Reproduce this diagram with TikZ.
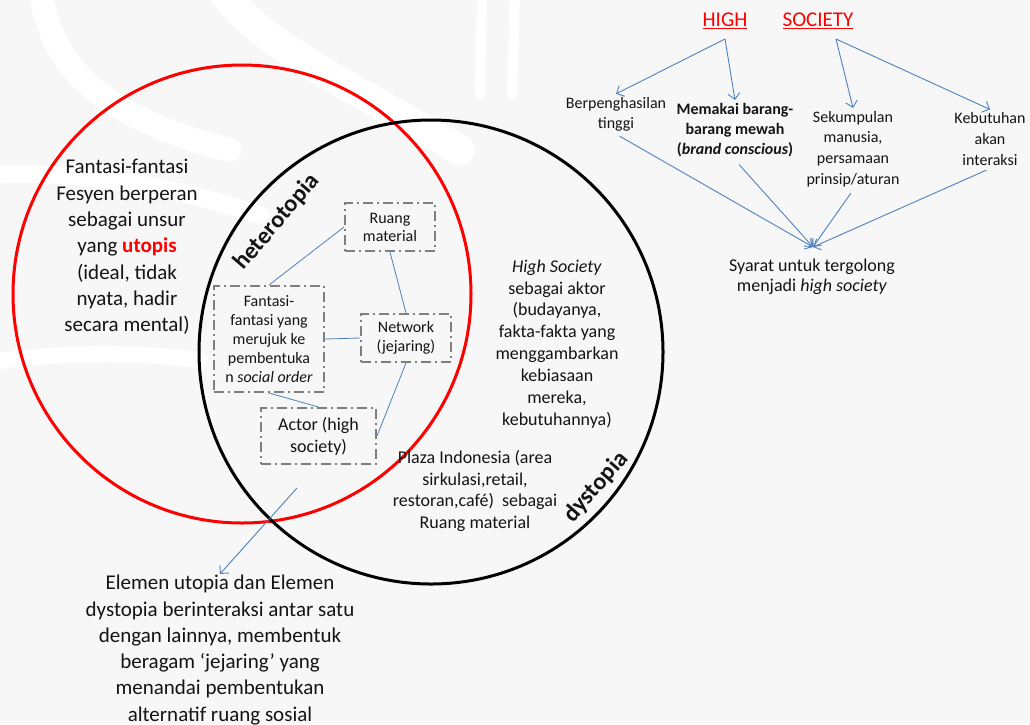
\documentclass[tikz,border=0pt]{standalone}
\usepackage{fontspec}
\setmainfont{Carlito}
\usetikzlibrary{arrows.meta}
\definecolor{bg}{HTML}{F7F7F7}
\definecolor{link}{HTML}{4F81BD}
\definecolor{boxgray}{HTML}{7F7F7F}
\definecolor{ink}{HTML}{141414}
\definecolor{hired}{HTML}{FF0000}

\begin{document}
\begin{tikzpicture}[x=1pt,y=-1pt,
  txt/.style={align=center, text=ink, inner sep=3pt},
  big/.style={font=\fontsize{21}{26.3}\selectfont},
  mid/.style={font=\fontsize{18}{21.9}\selectfont},
  small/.style={font=\fontsize{16}{20}\selectfont},
  netbox/.style={draw=boxgray, line width=2pt, dash pattern=on 10pt off 4pt on 2pt off 4pt,
    align=center, text=ink, inner sep=2pt},
  tie/.style={draw=link, line width=0.8pt},
  pointer/.style={draw=link, line width=0.9pt, -{Straight Barb[length=6pt,width=12pt]}},
  circlabel/.style={font=\fontsize{24}{28}\selectfont\bfseries, text=ink, inner sep=0pt},
  swirl/.style={draw=white, line cap=round}
]
\useasboundingbox (0,0) rectangle (1030,724);
\fill[bg] (0,0) rectangle (1030,724);

% faint watermark swirls in the background
\draw[swirl, line width=24pt] (40,-20) .. controls (45,70) and (110,120) .. (230,150);
\draw[swirl, line width=30pt] (215,-20) .. controls (250,40) and (340,80) .. (460,150);
\draw[swirl, line width=10pt] (482,-10) -- (480,95);
\draw[swirl, line width=10pt] (515,-10) -- (512,95);
\draw[swirl, line width=18pt] (-10,175) .. controls (80,170) and (170,185) .. (260,215);
\draw[swirl, line width=16pt] (-10,362) .. controls (60,352) and (140,352) .. (200,360);

% utopia and dystopia circles
\draw[hired, line width=3pt] (242,294) circle [radius=229];
\draw[black, line width=3pt] (431,352) circle [radius=232];

\node[circlabel, rotate=49.5] (het) at (277,222) {heterotopia};
\node[circlabel, rotate=49] (dys) at (596,487) {dystopia};

% text inside the circles
\node[txt, big] (utop) at (127,247) {Fantasi-fantasi\\Fesyen berperan\\sebagai unsur\\yang \textcolor{hired}{\textbf{utopis}}\\(ideal, tidak\\nyata, hadir\\secara mental)};

\node[txt, mid] (hsoc) at (557,344) {\textit{High Society}\\sebagai aktor\\(budayanya,\\fakta-fakta yang\\menggambarkan\\kebiasaan\\mereka,\\kebutuhannya)};

\node[txt, mid] (plaza) at (475,491) {Plaza Indonesia (area\\sirkulasi,retail,\\restoran,café)~ sebagai\\Ruang material};

% network of elements in the overlap
\node[netbox, small, minimum width=90pt, minimum height=48pt, font=\fontsize{16}{18}\selectfont] (ruang) at (390,227) {Ruang\\material};
\node[netbox, small, minimum width=110pt, minimum height=106pt, font=\fontsize{16}{19}\selectfont] (fan) at (269,339) {Fantasi-\\fantasi yang\\merujuk ke\\pembentuka\\n \textit{social order}};
\node[netbox, small, minimum width=90pt, minimum height=48pt, font=\fontsize{16}{19}\selectfont] (net) at (406,338) {Network\\(jejaring)};
\node[netbox, minimum width=115pt, minimum height=56pt, font=\fontsize{18}{22}\selectfont] (actor) at (318.5,436) {Actor (high\\society)};

\path[tie] (fan.north) -- (ruang.west);
\path[tie] (ruang.south) -- (net.north);
\path[tie] (fan.east) -- (net.west);
\path[tie] (fan.south) -- (actor.north);
\path[tie] (net.south) -- (actor.east);

% conclusion below the circles
\node[txt, big] (concl) at (220,650) {Elemen utopia dan Elemen\\dystopia berinteraksi antar satu\\dengan lainnya, membentuk\\beragam ‘jejaring’ yang\\menandai pembentukan\\alternatif ruang sosial};
\coordinate (overlap) at (297,488);
\path[pointer] (overlap) -- ([yshift=-2pt]concl.north);

% high society breakdown
\node[txt, font=\fontsize{21}{25}\selectfont, text=hired] (high) at (725,21) {\underline{HIGH}};
\node[txt, font=\fontsize{21}{25}\selectfont, text=hired] (soc) at (818,21) {\underline{SOCIETY}};
\coordinate (highfoot) at (725,39);
\coordinate (socfoot) at (836,39);

\node[txt, small] (berp) at (616,114) {Berpenghasilan\\tinggi};
\node[txt, small, font=\fontsize{16}{20}\selectfont\bfseries] (mewah) at (735,130) {Memakai barang-\\barang mewah\\(\textit{brand conscious})};
\node[txt, font=\fontsize{16}{20.7}\selectfont] (kump) at (853,149) {Sekumpulan\\manusia,\\persamaan\\prinsip/aturan};
\node[txt, font=\fontsize{16}{20.7}\selectfont] (inter) at (990,139) {Kebutuhan\\akan\\interaksi};

\node[txt, font=\fontsize{18}{20}\selectfont] (syarat) at (812,277) {Syarat untuk tergolong\\menjadi \textit{high society}};
\coordinate (meet) at (813,247);

\path[pointer] (highfoot) -- (berp.north);
\path[pointer] (highfoot) -- (mewah.north);
\path[pointer] (socfoot) -- (kump.north);
\path[pointer] (socfoot) -- (inter.north);

\path[pointer, shorten <=4pt] (berp.south) -- (meet);
\path[pointer, shorten <=6pt] (mewah.south) -- (meet);
\path[pointer, shorten <=4pt] (kump.south) -- (meet);
\path[pointer, shorten <=4pt] (inter.south) -- (meet);
\end{tikzpicture}
\end{document}
